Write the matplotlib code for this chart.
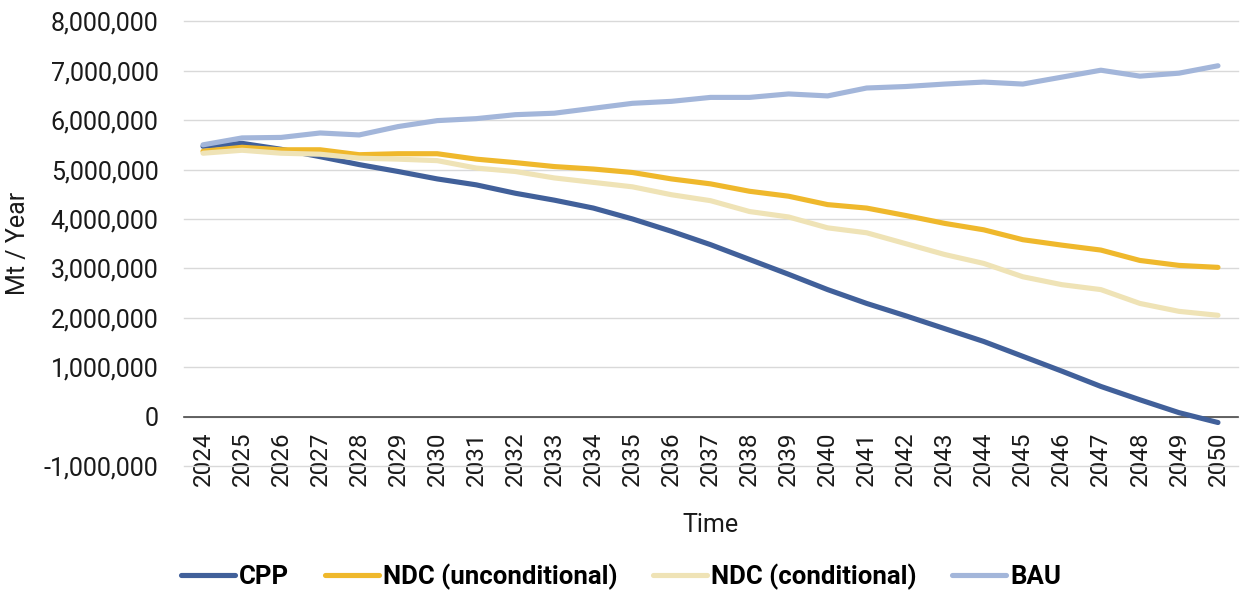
import matplotlib.pyplot as plt
from matplotlib.ticker import FuncFormatter

plt.rcParams['font.family'] = ['Roboto', 'DejaVu Sans']

# Emission pathways, Mt per year
years = list(range(2024, 2051))
cpp = [5.47, 5.53, 5.41, 5.26, 5.10, 4.96, 4.81, 4.69, 4.52, 4.38, 4.22, 4.00, 3.75, 3.48,
       3.18, 2.88, 2.57, 2.29, 2.04, 1.78, 1.52, 1.22, 0.92, 0.61, 0.34, 0.08, -0.12]
ndc_uncond = [5.37, 5.45, 5.40, 5.40, 5.30, 5.32, 5.32, 5.21, 5.14, 5.06, 5.01, 4.94, 4.81, 4.71,
              4.56, 4.46, 4.29, 4.22, 4.07, 3.91, 3.78, 3.58, 3.47, 3.37, 3.16, 3.06, 3.02]
ndc_cond = [5.33, 5.39, 5.33, 5.31, 5.23, 5.21, 5.18, 5.03, 4.96, 4.83, 4.74, 4.65, 4.49, 4.37,
            4.15, 4.04, 3.82, 3.72, 3.50, 3.28, 3.10, 2.83, 2.67, 2.57, 2.29, 2.13, 2.05]
bau = [5.50, 5.64, 5.65, 5.74, 5.70, 5.87, 5.99, 6.03, 6.11, 6.14, 6.24, 6.34, 6.38, 6.46,
       6.46, 6.53, 6.49, 6.65, 6.68, 6.73, 6.77, 6.73, 6.87, 7.01, 6.89, 6.95, 7.10]

series = [
    ("CPP", cpp, "#41609A"),
    ("NDC (unconditional)", ndc_uncond, "#EFB82C"),
    ("NDC (conditional)", ndc_cond, "#EFE3B6"),
    ("BAU", bau, "#A3B6DA"),
]

fig = plt.figure(figsize=(12.4, 5.94), dpi=100)
ax = fig.add_axes([183.5 / 1240, 1 - 466 / 594, 1054 / 1240, (466 - 21.3) / 594])

x = list(range(len(years)))
for name, vals, color in series:
    ax.plot(x, [v * 1e6 for v in vals], color=color, lw=3.7, label=name,
            solid_capstyle='round', zorder=3)

ax.set_xlim(-0.5, len(years) - 0.5)
ax.set_ylim(-1e6, 8e6)
ax.set_yticks([i * 1e6 for i in range(-1, 9)])
ax.yaxis.set_major_formatter(FuncFormatter(lambda v, p: f"{int(round(v)):,}"))
ax.set_xticks(x)
ax.set_xticklabels([str(y) for y in years])

ax.grid(axis='y', color='#D9D9D9', lw=1.0, zorder=0)
for g in ax.get_ygridlines():
    g.set_clip_on(False)
for s in ['top', 'right', 'left']:
    ax.spines[s].set_visible(False)
ax.spines['bottom'].set_position(('data', 0))
ax.spines['bottom'].set_color('#4a4a4a')
ax.spines['bottom'].set_linewidth(1.2)
ax.spines['bottom'].set_zorder(2)

ax.tick_params(axis='x', length=0, pad=11, labelsize=17.5, colors='#1a1a1a', labelrotation=90)
ax.tick_params(axis='y', length=0, pad=18, labelsize=18, colors='#1a1a1a')

fig.text(18 / 1240, 1 - 243.5 / 594, "Mt / Year", rotation=90, ha='center', va='center',
         fontsize=18, color='#1a1a1a')
fig.text(710.5 / 1240, 1 - 525 / 594, "Time", ha='center', va='center',
         fontsize=18, color='#1a1a1a')

fig.legend(loc='center', bbox_to_anchor=(621 / 1240, 1 - 577 / 594), ncol=4, frameon=False,
           prop={'family': 'Roboto', 'weight': 'bold', 'size': 18.5},
           handlelength=2.1, handletextpad=0.15, columnspacing=1.4)

fig.savefig("out.png", dpi=100)
